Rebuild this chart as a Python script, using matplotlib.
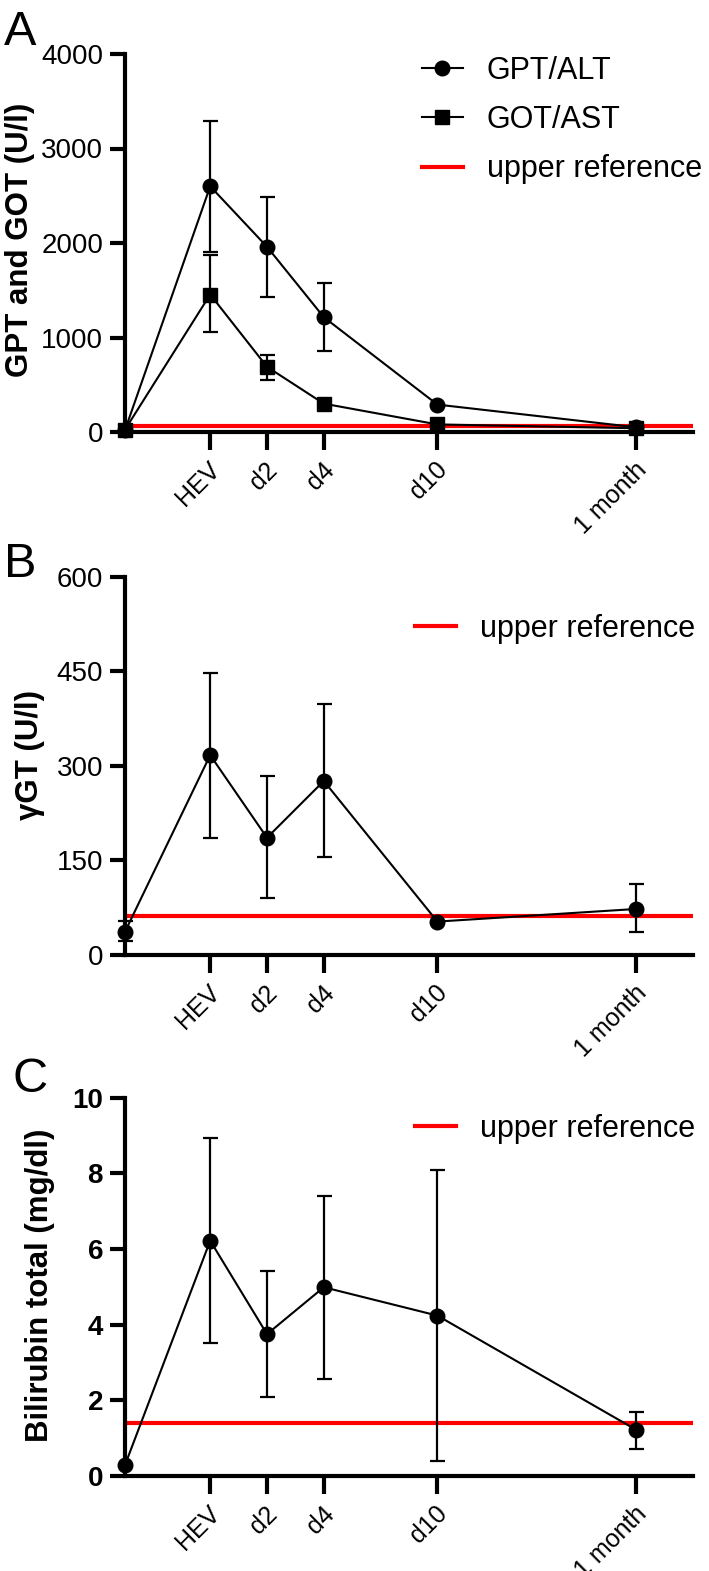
import numpy as np
import matplotlib
matplotlib.use("Agg")
import matplotlib.pyplot as plt
import matplotlib.transforms as mtransforms

plt.rcParams['font.family'] = ['Liberation Sans', 'DejaVu Sans']

# time points (category positions on the x axis)
xpos = [0, 1.5, 2.5, 3.5, 5.5, 9]
ticks = [1.5, 2.5, 3.5, 5.5, 9]
ticklabels = ["HEV", "d2", "d4", "d10", "1 month"]

# A: GPT/ALT and GOT/AST
gpt = [20, 2600, 1960, 1215, 290, 50]
gpt_lo = [20, 1905, 1432, 857, 290, 50]
gpt_hi = [20, 3290, 2490, 1578, 290, 50]
got = [25, 1455, 690, 300, 80, 40]
got_lo = [25, 1058, 550, 300, 80, 40]
got_hi = [25, 1870, 810, 300, 80, 40]
ref_a = 60

# B: gamma GT
ggt = [37, 317, 186, 276, 53, 73]
ggt_lo = [22, 186, 90, 155, 53, 36]
ggt_hi = [54, 448, 284, 398, 53, 112]
ref_b = 62

# C: bilirubin total
bili = [0.29, 6.22, 3.75, 4.99, 4.24, 1.22]
bili_lo = [0.29, 3.51, 2.10, 2.56, 0.40, 0.71]
bili_hi = [0.29, 8.93, 5.42, 7.40, 8.09, 1.70]
ref_c = 1.41

W, H = 709, 1571
fig = plt.figure(figsize=(W/100, H/100), dpi=100)

def box(top, bottom):
    return [125/W, 1-bottom/H, 568/W, (bottom-top)/H]

axA = fig.add_axes(box(54, 432))
axB = fig.add_axes(box(576.7, 955))
axC = fig.add_axes(box(1097.7, 1476))

def errs(v, lo, hi):
    v = np.array(v); return [v-np.array(lo), np.array(hi)-v]

def style(ax, ylim, yticks, boldticks=False):
    ax.set_xlim(0, 10)
    ax.set_ylim(*ylim)
    ax.set_yticks(yticks)
    ax.set_xticks(ticks)
    ax.set_xticklabels(ticklabels, rotation=45, ha='right', va='top', rotation_mode='anchor')
    for s in ['top', 'right']:
        ax.spines[s].set_visible(False)
    for s in ['left', 'bottom']:
        ax.spines[s].set_linewidth(3)
    ax.tick_params(width=3, length=10.8, labelsize=20, pad=5)
    ax.tick_params(axis='x', length=13, pad=4, labelsize=18)
    off = mtransforms.ScaledTranslation(-2/100, -2/100, fig.dpi_scale_trans)
    for lab in ax.get_xticklabels():
        lab.set_transform(lab.get_transform() + off)
    if boldticks:
        for lab in ax.get_yticklabels():
            lab.set_fontweight('bold')

ekw = dict(fmt='none', ecolor='black', elinewidth=1.6, capsize=5.4, capthick=1.6, clip_on=False, zorder=3)
mkw = dict(color='black', lw=1.5, markersize=10.5, clip_on=False, zorder=4)
lkw = dict(loc='center left', bbox_transform=fig.transFigure, frameon=False, fontsize=22,
           borderpad=0, borderaxespad=0, handlelength=1.34, handletextpad=0.78)

# panel A
ra = axA.axhline(ref_a, color='#ff0000', lw=3, zorder=2)
axA.errorbar(xpos, gpt, yerr=errs(gpt, gpt_lo, gpt_hi), **ekw)
axA.errorbar(xpos, got, yerr=errs(got, got_lo, got_hi), **ekw)
l1, = axA.plot(xpos, gpt, marker='o', **mkw)
l2, = axA.plot(xpos, got, marker='s', **mkw)
style(axA, (0, 4000), [0, 1000, 2000, 3000, 4000])
axA.legend([l1, l2, ra], ['GPT/ALT', 'GOT/AST', 'upper reference'],
           bbox_to_anchor=(422/W, 1-120/H), labelspacing=0.63, **lkw)

# panel B
rb = axB.axhline(ref_b, color='#ff0000', lw=3, zorder=2)
axB.errorbar(xpos, ggt, yerr=errs(ggt, ggt_lo, ggt_hi), **ekw)
axB.plot(xpos, ggt, marker='o', **mkw)
style(axB, (0, 600), [0, 150, 300, 450, 600])
axB.legend([rb], ['upper reference'], bbox_to_anchor=(415/W, 1-629/H), **lkw)

# panel C
rc = axC.axhline(ref_c, color='#ff0000', lw=3, zorder=2)
axC.errorbar(xpos, bili, yerr=errs(bili, bili_lo, bili_hi), **ekw)
axC.plot(xpos, bili, marker='o', **mkw)
style(axC, (0, 10), [0, 2, 4, 6, 8, 10], boldticks=True)
axC.legend([rc], ['upper reference'], bbox_to_anchor=(415/W, 1-1129/H), **lkw)

# y labels
fig.text(20/W, 1-240/H, 'GPT and GOT (U/l)', rotation=90, ha='center', va='center', fontsize=22.5, fontweight='bold')
fig.text(30/W, 1-755/H, 'γGT (U/l)', rotation=90, ha='center', va='center', fontsize=22.5, fontweight='bold')
fig.text(40/W, 1-1285/H, 'Bilirubin total (mg/dl)', rotation=90, ha='center', va='center', fontsize=22.5, fontweight='bold')

# panel letters
fig.text(4/W, 1-45/H, 'A', fontsize=35, va='baseline', ha='left')
fig.text(4/W, 1-577/H, 'B', fontsize=35, va='baseline', ha='left')
fig.text(12/W, 1-1092/H, 'C', fontsize=35, va='baseline', ha='left')

fig.savefig('out.png', dpi=100)
